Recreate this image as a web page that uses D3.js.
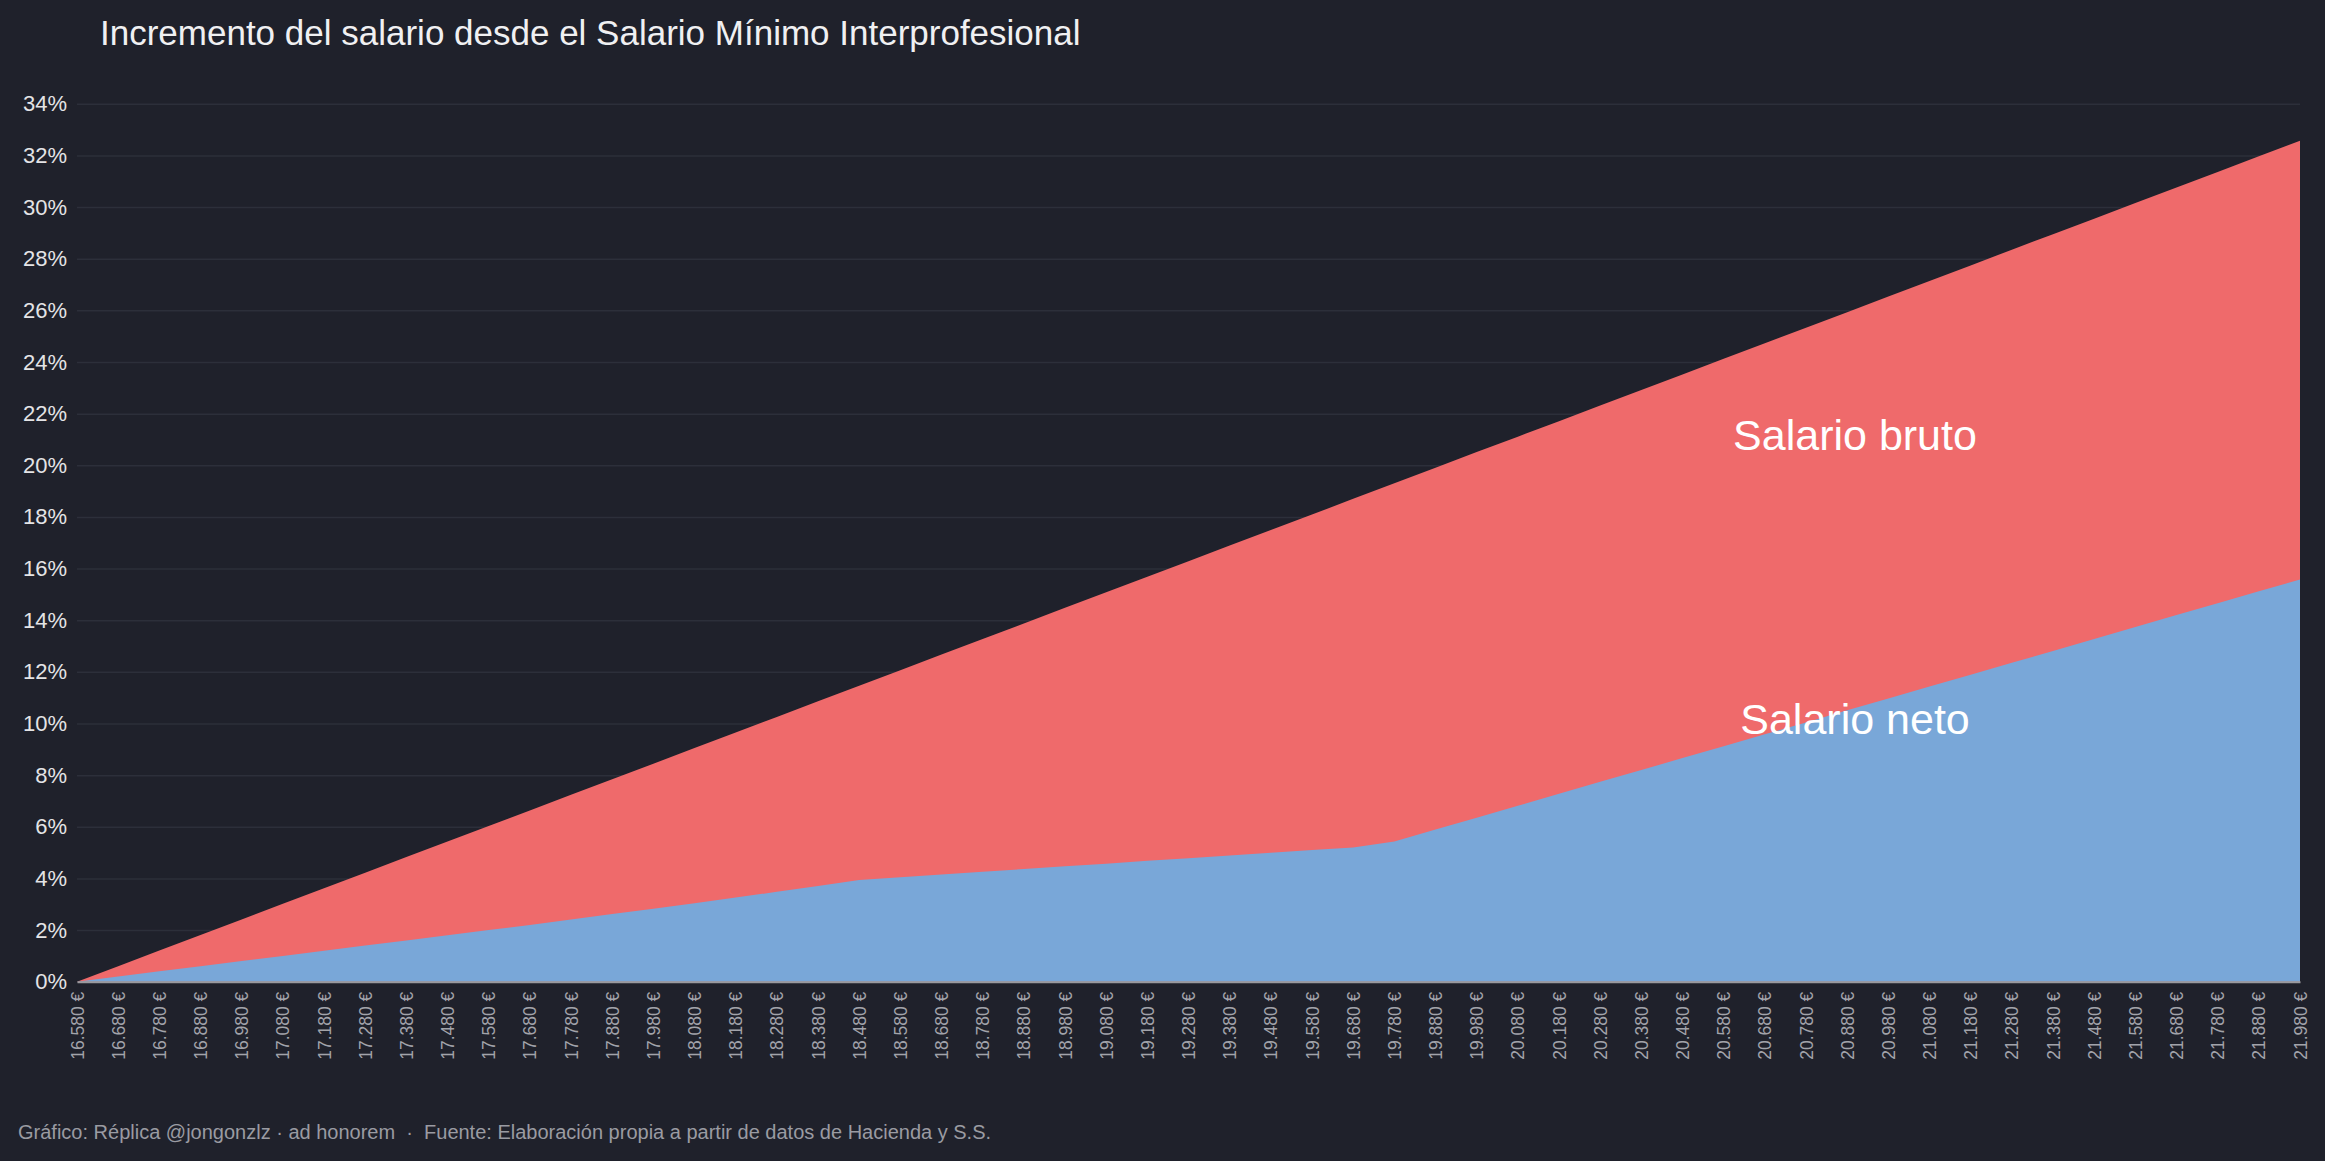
<!DOCTYPE html>
<html>
<head>
<meta charset="utf-8">
<script src="https://cdn.jsdelivr.net/npm/d3@7"></script>
<style>
  html, body { margin: 0; padding: 0; background: #1f212b; }
  svg { display: block; font-family: "Liberation Sans", Arial, Helvetica, sans-serif; }
</style>
</head>
<body>
<svg id="chart" width="2325" height="1161"></svg>
<script>
// ---- DATA ----
const salarios = [16580,16680,16780,16880,16980,17080,17180,17280,17380,17480,
  17580,17680,17780,17880,17980,18080,18180,18280,18380,18480,
  18580,18680,18780,18880,18980,19080,19180,19280,19380,19480,
  19580,19680,19780,19880,19980,20080,20180,20280,20380,20480,
  20580,20680,20780,20880,20980,21080,21180,21280,21380,21480,
  21580,21680,21780,21880,21980];
const salarioBruto = [0,0.60,1.21,1.81,2.41,3.02,3.62,4.22,4.83,5.43,
  6.03,6.63,7.24,7.84,8.44,9.05,9.65,10.25,10.86,11.46,
  12.06,12.67,13.27,13.87,14.48,15.08,15.68,16.28,16.89,17.49,
  18.09,18.70,19.30,19.90,20.51,21.11,21.71,22.32,22.92,23.52,
  24.13,24.73,25.33,25.93,26.54,27.14,27.74,28.35,28.95,29.55,
  30.16,30.76,31.36,31.97,32.57];
const salarioNeto = [0,0.20,0.40,0.60,0.80,1.00,1.20,1.40,1.60,1.80,
  2.00,2.20,2.41,2.62,2.83,3.04,3.26,3.48,3.71,3.94,
  4.05,4.15,4.26,4.36,4.47,4.57,4.68,4.78,4.89,4.99,
  5.10,5.20,5.43,5.89,6.35,6.81,7.28,7.74,8.20,8.66,
  9.12,9.58,10.04,10.51,10.97,11.43,11.89,12.35,12.81,13.27,
  13.74,14.20,14.66,15.12,15.58];
const yTicks = [0,2,4,6,8,10,12,14,16,18,20,22,24,26,28,30,32,34];
const titulo = "Incremento del salario desde el Salario Mínimo Interprofesional";
const etiquetas = ["Salario bruto", "Salario neto"];
const pie = "Gráfico: Réplica @jongonzlz · ad honorem  ·  Fuente: Elaboración propia a partir de datos de Hacienda y S.S.";

// ---- CHART ----
const svg = d3.select("#chart");
const W = 2325, H = 1161;
const mLeft = 77, mRight = 2300, mTop = 103.8, mBottom = 981.7;

svg.append("rect").attr("width", W).attr("height", H).attr("fill", "#1f212b");

const x = d3.scaleLinear().domain([d3.min(salarios), d3.max(salarios)]).range([mLeft, mRight]);
const y = d3.scaleLinear().domain([0, 34]).range([mBottom, mTop]);

const loc = d3.formatLocale({decimal: ",", thousands: ".", grouping: [3], currency: ["", " €"]});
const fmtEur = loc.format("$,.0f");

// grid + y axis
const yAxis = svg.append("g")
  .attr("transform", `translate(${mLeft},0)`)
  .call(d3.axisLeft(y).tickValues(yTicks).tickSize(-(mRight - mLeft)).tickPadding(10).tickFormat(d => d + "%"));
yAxis.select(".domain").remove();
yAxis.selectAll(".tick line").attr("stroke", "#2c2f3a").attr("stroke-width", 1.5);
yAxis.selectAll(".tick text")
  .attr("fill", "#e4e4e6").attr("font-size", 22)
  .attr("font-family", "'Liberation Sans', Arial, sans-serif");

const data = salarios.map((s, i) => ({s, b: salarioBruto[i], n: salarioNeto[i]}));

svg.append("path")
  .datum(data)
  .attr("fill", "#ef6a6b")
  .attr("d", d3.area().x(d => x(d.s)).y0(y(0)).y1(d => y(d.b)));

svg.append("path")
  .datum(data)
  .attr("fill", "#79a7d8")
  .attr("d", d3.area().x(d => x(d.s)).y0(y(0)).y1(d => y(d.n)));

// x axis
const xAxis = svg.append("g")
  .attr("transform", `translate(0,${mBottom})`)
  .call(d3.axisBottom(x).tickValues(salarios).tickSize(0).tickPadding(0).tickFormat(fmtEur));
xAxis.select(".domain").attr("stroke", "#9a9a9e").attr("stroke-width", 2);
xAxis.selectAll(".tick text")
  .attr("fill", "#a2a3aa").attr("font-size", 17.5)
  .attr("font-family", "'Liberation Sans', Arial, sans-serif")
  .attr("transform", "rotate(-90)")
  .attr("text-anchor", "end")
  .attr("x", -10).attr("y", 0).attr("dy", "0.35em");

// annotations
svg.append("text").attr("x", 1855).attr("y", 450).attr("text-anchor", "middle")
  .attr("fill", "#ffffff").attr("font-size", 43).text(etiquetas[0]);
svg.append("text").attr("x", 1855).attr("y", 734).attr("text-anchor", "middle")
  .attr("fill", "#ffffff").attr("font-size", 43).text(etiquetas[1]);

// title
svg.append("text").attr("x", 100).attr("y", 45)
  .attr("fill", "#f0f0f2").attr("font-size", 35).text(titulo);

// footer
svg.append("text").attr("x", 18).attr("y", 1139)
  .style("white-space", "pre")
  .attr("fill", "#9a9ba2").attr("font-size", 20).text(pie);
</script>
</body>
</html>
